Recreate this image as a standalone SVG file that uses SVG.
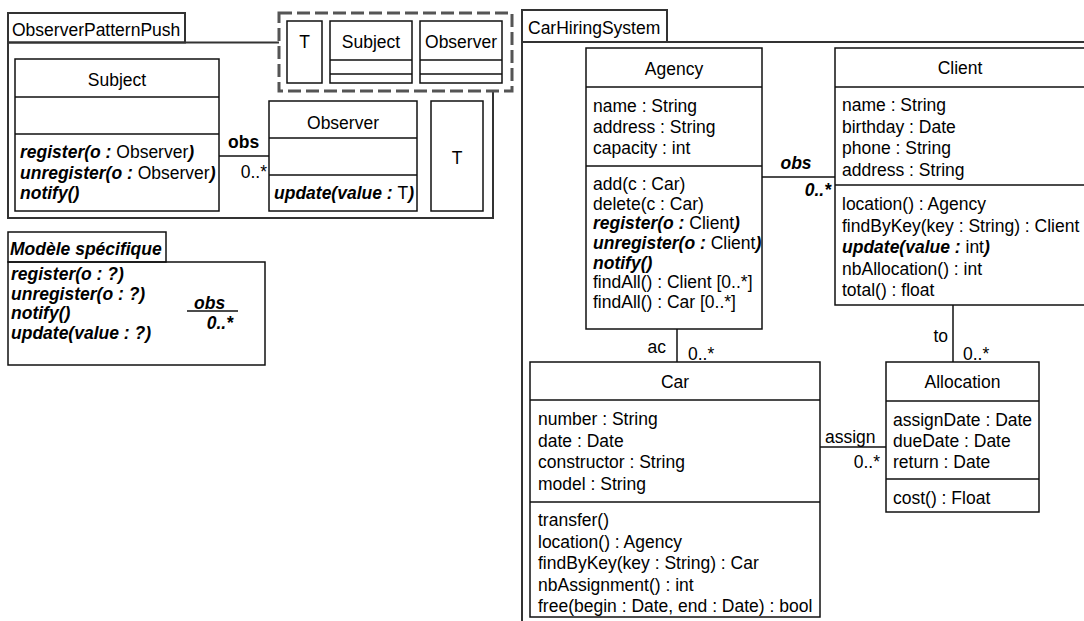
<svg xmlns="http://www.w3.org/2000/svg" width="1084" height="621" viewBox="0 0 1084 621">
<style>
text{font-family:"Liberation Sans",Arial,sans-serif;font-size:17.5px;fill:#000}
.bi{font-weight:bold;font-style:italic}
.r{font-weight:normal;font-style:normal}
.b{font-weight:bold}
.c{text-anchor:middle}
.e{text-anchor:end}
.box{fill:#fff;stroke:#111;stroke-width:1.5}
.ln{fill:none;stroke:#111;stroke-width:1.5}
.pkg{fill:none;stroke:#333;stroke-width:2}
.dash{fill:none;stroke:#555;stroke-width:3;stroke-dasharray:13 5}
</style>
<rect width="1084" height="621" fill="#fff"/>

<!-- Left package -->
<g id="pkg-observer">
  <rect x="8" y="13" width="177" height="29.5" fill="#fff" class="pkg"/>
  <path class="pkg" d="M279,42.5 H8 V218 H493 V91"/>
  <text x="12" y="36">ObserverPatternPush</text>
</g>
<g id="template-params">
  <rect class="dash" x="279" y="13" width="233" height="78"/>
  <rect class="box" x="287" y="21" width="35" height="62"/>
  <text class="c" x="304.5" y="48">T</text>
  <rect class="box" x="330" y="21" width="82" height="62"/>
  <path class="ln" d="M330,60 H412 M330,74 H412"/>
  <text class="c" x="371" y="48">Subject</text>
  <rect class="box" x="420" y="21" width="82" height="62"/>
  <path class="ln" d="M420,60 H502 M420,74 H502"/>
  <text class="c" x="461" y="48">Observer</text>
</g>
<g id="subject">
  <rect class="box" x="15" y="59" width="204" height="152"/>
  <path class="ln" d="M15,97 H219 M15,134 H219"/>
  <text class="c" x="117" y="86">Subject</text>
  <text x="20" y="158" class="bi">register(o : <tspan class="r">Observer</tspan>)</text>
  <text x="20" y="178.5" class="bi">unregister(o : <tspan class="r">Observer</tspan>)</text>
  <text x="20" y="199" class="bi">notify()</text>
</g>
<g id="observer">
  <rect class="box" x="269" y="101" width="148" height="110"/>
  <path class="ln" d="M269,138 H417 M269,175 H417"/>
  <text class="c" x="343" y="129">Observer</text>
  <text x="274" y="199" class="bi">update(value : <tspan class="r">T</tspan>)</text>
</g>
<g id="T">
  <rect class="box" x="431" y="101" width="52" height="110"/>
  <text class="c" x="457" y="164">T</text>
</g>

<!-- Modele specifique -->
<g id="modele-specifique">
  <rect x="8" y="232" width="158" height="30" fill="#fff" class="ln"/>
  <rect x="8" y="262" width="257" height="103" class="ln"/>
  <text x="10" y="255" class="bi">Modèle spécifique</text>
  <text x="11" y="280" class="bi">register(o : ?)</text>
  <text x="11" y="300" class="bi">unregister(o : ?)</text>
  <text x="11" y="319" class="bi">notify()</text>
  <text x="11" y="339" class="bi">update(value : ?)</text>
  <text x="194" y="309" class="bi">obs</text>
  <path class="ln" d="M187,311 H238"/>
  <text x="233" y="329" class="bi e">0..*</text>
</g>

<!-- Right package -->
<g id="pkg-carhiring">
  <rect x="522" y="10" width="145" height="32" fill="#fff" class="pkg"/>
  <path class="pkg" d="M1086,42 H522 V623"/>
  <text x="528" y="34">CarHiringSystem</text>
</g>
<g id="agency">
  <rect class="box" x="586" y="48" width="176" height="281"/>
  <path class="ln" d="M586,87 H762 M586,166 H762"/>
  <text class="c" x="674" y="75">Agency</text>
  <text x="593" y="112">name : String</text>
  <text x="593" y="133">address : String</text>
  <text x="593" y="154">capacity : int</text>
  <text x="593" y="190">add(c : Car)</text>
  <text x="593" y="209.7">delete(c : Car)</text>
  <text x="593" y="229.3" class="bi">register(o : <tspan class="r">Client</tspan>)</text>
  <text x="593" y="249" class="bi">unregister(o : <tspan class="r">Client</tspan>)</text>
  <text x="593" y="268.7" class="bi">notify()</text>
  <text x="593" y="288.3">findAll() : Client [0..*]</text>
  <text x="593" y="308">findAll() : Car [0..*]</text>
</g>
<g id="client">
  <rect class="box" x="835" y="48" width="255" height="257"/>
  <path class="ln" d="M835,87 H1090 M835,185 H1090"/>
  <text class="c" x="960" y="74">Client</text>
  <text x="842" y="111">name : String</text>
  <text x="842" y="132.5">birthday : Date</text>
  <text x="842" y="154">phone : String</text>
  <text x="842" y="175.5">address : String</text>
  <text x="842" y="210">location() : Agency</text>
  <text x="842" y="231.5">findByKey(key : String) : Client</text>
  <text x="842" y="253" class="bi">update(value : <tspan class="r">int</tspan>)</text>
  <text x="842" y="274.5">nbAllocation() : int</text>
  <text x="842" y="296">total() : float</text>
</g>
<g id="car">
  <rect class="box" x="530" y="362" width="290" height="255"/>
  <path class="ln" d="M530,400 H820 M530,502 H820"/>
  <text class="c" x="675" y="388">Car</text>
  <text x="538" y="425">number : String</text>
  <text x="538" y="446.5">date : Date</text>
  <text x="538" y="468">constructor : String</text>
  <text x="538" y="489.5">model : String</text>
  <text x="538" y="526">transfer()</text>
  <text x="538" y="547.5">location() : Agency</text>
  <text x="538" y="569">findByKey(key : String) : Car</text>
  <text x="538" y="590.5">nbAssignment() : int</text>
  <text x="538" y="612">free(begin : Date, end : Date) : bool</text>
</g>
<g id="allocation">
  <rect class="box" x="886" y="362" width="153" height="150"/>
  <path class="ln" d="M886,401 H1039 M886,479 H1039"/>
  <text class="c" x="962.5" y="388">Allocation</text>
  <text x="893" y="426">assignDate : Date</text>
  <text x="893" y="447">dueDate : Date</text>
  <text x="893" y="468">return : Date</text>
  <text x="893" y="504">cost() : Float</text>
</g>

<!-- Connectors -->
<g id="connectors">
  <path class="ln" d="M219,156 H269"/>
  <text x="228" y="148" class="b">obs</text>
  <text x="267" y="178" class="e">0..*</text>

  <path class="ln" d="M762,177 H835"/>
  <text x="796" y="169" class="bi c">obs</text>
  <text x="831" y="196" class="bi e">0..*</text>

  <path class="ln" d="M677,329 V362"/>
  <text x="666" y="353" class="e">ac</text>
  <text x="688" y="360">0..*</text>

  <path class="ln" d="M953,305 V362"/>
  <text x="948" y="342" class="e">to</text>
  <text x="963" y="360">0..*</text>

  <path class="ln" d="M820,447 H886"/>
  <text x="825" y="443">assign</text>
  <text x="880" y="468" class="e">0..*</text>
</g>
</svg>
